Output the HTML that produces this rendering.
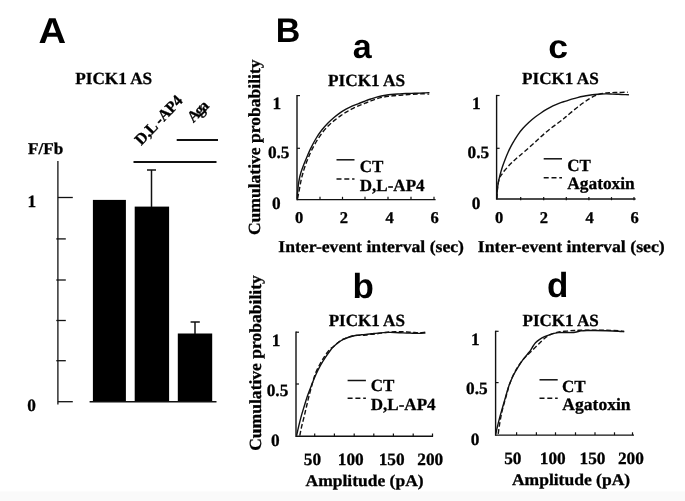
<!DOCTYPE html>
<html lang="en">
<head>
<meta charset="utf-8">
<title>Figure</title>
<style>
html,body{margin:0;padding:0;background:#fff;}
body{width:685px;height:501px;overflow:hidden;}
svg{display:block;will-change:transform;transform:translateZ(0);}
text{text-rendering:geometricPrecision;}
.se{font-family:"Liberation Serif", serif;font-weight:bold;fill:#000;stroke:#000;stroke-width:0.3px;}
.sa{font-family:"Liberation Sans", sans-serif;font-weight:bold;fill:#000;}
line,path{stroke:#111;}
</style>
</head>
<body>
<svg width="685" height="501" viewBox="0 0 685 501">
<rect width="685" height="501" fill="#fff"/>
<rect x="0" y="491.5" width="685" height="9.5" fill="#fafafa"/>
<text class="sa" x="38.4" y="42.5" font-size="36" text-anchor="start" textLength="27.6" lengthAdjust="spacingAndGlyphs">A</text>
<text class="se" x="75.2" y="84" font-size="17" text-anchor="start" textLength="77" lengthAdjust="spacingAndGlyphs">PICK1 AS</text>
<text class="se" x="28" y="153.8" font-size="16.5" text-anchor="start" textLength="35.2" lengthAdjust="spacingAndGlyphs">F/Fb</text>
<text class="se" x="141.3" y="145.9" font-size="16" text-anchor="start" transform="rotate(-46.5 141.3 145.9)" textLength="61.5" lengthAdjust="spacing">D,L -AP4</text>
<text class="se" x="193.2" y="123.3" font-size="16" text-anchor="start" transform="rotate(-45 193.2 123.3)" textLength="23.5" lengthAdjust="spacing">Aga</text>
<line x1="176.7" y1="140" x2="218" y2="140" stroke-width="2"/>
<line x1="133.5" y1="162" x2="216.5" y2="162" stroke-width="2"/>
<line x1="57.9" y1="161" x2="57.9" y2="404.4" stroke-width="1.3"/>
<line x1="57.9" y1="197.5" x2="72.8" y2="197.5" stroke-width="1.3"/>
<line x1="57.9" y1="401.7" x2="72.8" y2="401.7" stroke-width="1.3"/>
<line x1="56.3" y1="238.9" x2="65.8" y2="238.9" stroke-width="1.3"/>
<line x1="56.3" y1="280" x2="65.8" y2="280" stroke-width="1.3"/>
<line x1="56.3" y1="320.5" x2="65.8" y2="320.5" stroke-width="1.3"/>
<line x1="56.3" y1="360.7" x2="65.8" y2="360.7" stroke-width="1.3"/>
<text class="se" x="27.5" y="207.4" font-size="17.3" text-anchor="start">1</text>
<text class="se" x="27.2" y="411.3" font-size="17.3" text-anchor="start">0</text>
<rect x="92.9" y="199.9" width="33" height="202" fill="#000"/>
<rect x="134.7" y="206.6" width="34.4" height="195.3" fill="#000"/>
<rect x="177.8" y="333.5" width="34.4" height="68.4" fill="#000"/>
<line x1="89.6" y1="401.8" x2="216.5" y2="401.8" stroke-width="1.5"/>
<line x1="151.5" y1="170" x2="151.5" y2="207" stroke-width="1.5"/>
<line x1="147" y1="170" x2="156" y2="170" stroke-width="1.5"/>
<line x1="195" y1="322" x2="195" y2="334" stroke-width="1.5"/>
<line x1="190.6" y1="322" x2="199.8" y2="322" stroke-width="1.5"/>
<text class="sa" x="275.8" y="41.8" font-size="34" text-anchor="start">B</text>
<text class="sa" x="362.2" y="58" font-size="34" text-anchor="middle">a</text>
<text class="sa" x="558.2" y="58.3" font-size="33" text-anchor="middle" textLength="19.8" lengthAdjust="spacingAndGlyphs">c</text>
<text class="sa" x="363.3" y="298" font-size="35" text-anchor="middle">b</text>
<text class="sa" x="557.6" y="296.8" font-size="35" text-anchor="middle">d</text>
<text class="se" x="328" y="85.5" font-size="17" text-anchor="start" textLength="77" lengthAdjust="spacingAndGlyphs">PICK1 AS</text>
<line x1="297" y1="95.0" x2="297" y2="200.29999999999998" stroke-width="1.4"/>
<line x1="297" y1="199.6" x2="435.6" y2="199.6" stroke-width="1.4"/>
<line x1="297" y1="95.6" x2="300" y2="95.6" stroke-width="1.2"/>
<line x1="297" y1="148.3" x2="300" y2="148.3" stroke-width="1.2"/>
<line x1="320" y1="199.6" x2="320" y2="196.79999999999998" stroke-width="1.2"/>
<line x1="342.5" y1="199.6" x2="342.5" y2="196.79999999999998" stroke-width="1.2"/>
<line x1="365" y1="199.6" x2="365" y2="196.79999999999998" stroke-width="1.2"/>
<line x1="388" y1="199.6" x2="388" y2="196.79999999999998" stroke-width="1.2"/>
<line x1="411" y1="199.6" x2="411" y2="196.79999999999998" stroke-width="1.2"/>
<line x1="434" y1="199.6" x2="434" y2="196.79999999999998" stroke-width="1.2"/>
<path d="M297.20,198.70 C297.33,196.90 297.67,191.10 298.00,187.90 C298.33,184.70 298.70,182.10 299.20,179.50 C299.70,176.90 300.20,174.88 301.00,172.30 C301.80,169.72 303.00,166.58 304.00,164.00 C305.00,161.42 305.90,159.37 307.00,156.80 C308.10,154.23 309.10,151.65 310.60,148.60 C312.10,145.55 314.10,141.63 316.00,138.50 C317.90,135.37 320.00,132.38 322.00,129.80 C324.00,127.22 326.00,125.05 328.00,123.00 C330.00,120.95 332.00,119.20 334.00,117.50 C336.00,115.80 338.00,114.18 340.00,112.80 C342.00,111.42 344.00,110.30 346.00,109.20 C348.00,108.10 350.00,107.10 352.00,106.20 C354.00,105.30 356.00,104.58 358.00,103.80 C360.00,103.02 361.87,102.30 364.00,101.50 C366.13,100.70 368.68,99.73 370.80,99.00 C372.92,98.27 374.75,97.63 376.70,97.10 C378.65,96.57 380.55,96.18 382.50,95.80 C384.45,95.42 386.45,95.07 388.40,94.80 C390.35,94.53 392.27,94.35 394.20,94.20 C396.13,94.05 398.05,94.02 400.00,93.90 C401.95,93.78 403.95,93.58 405.90,93.50 C407.85,93.42 409.75,93.45 411.70,93.40 C413.65,93.35 415.65,93.27 417.60,93.20 C419.55,93.13 421.42,93.10 423.40,93.00 C425.38,92.90 428.48,92.67 429.50,92.60" fill="none" stroke-width="1.4" stroke-linejoin="round"/>
<path d="M297.60,198.70 C297.87,197.30 298.63,193.30 299.20,190.30 C299.77,187.30 300.40,183.50 301.00,180.70 C301.60,177.90 302.10,176.00 302.80,173.50 C303.50,171.00 304.30,168.28 305.20,165.70 C306.10,163.12 307.13,160.57 308.20,158.00 C309.27,155.43 310.10,153.27 311.60,150.30 C313.10,147.33 315.27,143.33 317.20,140.20 C319.13,137.07 321.20,134.03 323.20,131.50 C325.20,128.97 327.22,126.93 329.20,125.00 C331.18,123.07 333.12,121.50 335.10,119.90 C337.08,118.30 339.10,116.78 341.10,115.40 C343.10,114.02 345.10,112.78 347.10,111.60 C349.10,110.42 351.10,109.30 353.10,108.30 C355.10,107.30 357.07,106.45 359.10,105.60 C361.13,104.75 363.35,103.98 365.30,103.20 C367.25,102.42 368.90,101.63 370.80,100.90 C372.70,100.17 374.75,99.40 376.70,98.80 C378.65,98.20 380.55,97.72 382.50,97.30 C384.45,96.88 386.45,96.57 388.40,96.30 C390.35,96.03 392.27,95.87 394.20,95.70 C396.13,95.53 398.05,95.45 400.00,95.30 C401.95,95.15 403.95,94.97 405.90,94.80 C407.85,94.63 409.75,94.43 411.70,94.30 C413.65,94.17 415.65,94.08 417.60,94.00 C419.55,93.92 421.47,93.78 423.40,93.80 C425.33,93.82 428.23,94.05 429.20,94.10" fill="none" stroke-width="1.4" stroke-linejoin="round" stroke-dasharray="4.8 2.4"/>
<line x1="336.5" y1="159.8" x2="354.5" y2="159.8" stroke-width="1.5"/>
<text class="se" x="359.8" y="172" font-size="17" text-anchor="start">CT</text>
<line x1="336.5" y1="179" x2="354.5" y2="179" stroke-width="1.5" stroke-dasharray="5 2.8"/>
<text class="se" x="359.8" y="191.2" font-size="17" text-anchor="start" textLength="64.8" lengthAdjust="spacingAndGlyphs">D,L-AP4</text>
<text class="se" x="272.5" y="108.6" font-size="17.3" text-anchor="start">1</text>
<text class="se" x="267.9" y="158.4" font-size="17.3" text-anchor="start">0.5</text>
<text class="se" x="272" y="208.5" font-size="17.3" text-anchor="start">0</text>
<text class="se" x="299.2" y="223.4" font-size="16.5" text-anchor="middle">0</text>
<text class="se" x="343.8" y="223.4" font-size="16.5" text-anchor="middle">2</text>
<text class="se" x="389.5" y="223.4" font-size="16.5" text-anchor="middle">4</text>
<text class="se" x="434.7" y="223.4" font-size="16.5" text-anchor="middle">6</text>
<text class="se" x="278.3" y="251.7" font-size="16.6" text-anchor="start" textLength="185.7" lengthAdjust="spacingAndGlyphs">Inter-event interval (sec)</text>
<text class="se" x="259.7" y="235.1" font-size="17" text-anchor="start" transform="rotate(-90 259.7 235.1)" textLength="175.7" lengthAdjust="spacingAndGlyphs">Cumulative probability</text>
<text class="se" x="522" y="84.3" font-size="17" text-anchor="start" textLength="76.7" lengthAdjust="spacingAndGlyphs">PICK1 AS</text>
<line x1="496.6" y1="94.9" x2="496.6" y2="199.7" stroke-width="1.4"/>
<line x1="496.6" y1="199.0" x2="635.6" y2="199.0" stroke-width="1.4"/>
<line x1="496.6" y1="95.5" x2="499.6" y2="95.5" stroke-width="1.2"/>
<line x1="496.6" y1="148.3" x2="499.6" y2="148.3" stroke-width="1.2"/>
<line x1="520.7" y1="200.2" x2="520.7" y2="197.1" stroke-width="1.2"/>
<line x1="543.7" y1="200.2" x2="543.7" y2="197.1" stroke-width="1.2"/>
<line x1="566.3" y1="200.2" x2="566.3" y2="197.1" stroke-width="1.2"/>
<line x1="588.9" y1="200.2" x2="588.9" y2="197.1" stroke-width="1.2"/>
<line x1="611.5" y1="200.2" x2="611.5" y2="197.1" stroke-width="1.2"/>
<line x1="634" y1="200.2" x2="634" y2="197.1" stroke-width="1.2"/>
<path d="M496.80,198.70 C496.87,197.50 497.00,193.90 497.20,191.50 C497.40,189.10 497.57,186.90 498.00,184.30 C498.43,181.70 499.10,178.70 499.80,175.90 C500.50,173.10 501.30,170.28 502.20,167.50 C503.10,164.72 504.20,161.78 505.20,159.20 C506.20,156.62 507.20,154.23 508.20,152.00 C509.20,149.77 510.18,147.72 511.20,145.80 C512.22,143.88 513.13,142.42 514.30,140.50 C515.47,138.58 516.75,136.33 518.20,134.30 C519.65,132.27 521.20,130.30 523.00,128.30 C524.80,126.30 527.02,124.13 529.00,122.30 C530.98,120.47 532.92,118.85 534.90,117.30 C536.88,115.75 538.90,114.35 540.90,113.00 C542.90,111.65 544.90,110.38 546.90,109.20 C548.90,108.02 550.90,106.88 552.90,105.90 C554.90,104.92 556.75,104.10 558.90,103.30 C561.05,102.50 563.67,101.78 565.80,101.10 C567.93,100.42 569.75,99.78 571.70,99.20 C573.65,98.62 575.55,98.08 577.50,97.60 C579.45,97.12 581.45,96.68 583.40,96.30 C585.35,95.92 587.27,95.60 589.20,95.30 C591.13,95.00 593.05,94.72 595.00,94.50 C596.95,94.28 598.95,94.10 600.90,94.00 C602.85,93.90 604.75,93.88 606.70,93.90 C608.65,93.92 610.65,94.03 612.60,94.10 C614.55,94.17 616.47,94.22 618.40,94.30 C620.33,94.38 622.45,94.52 624.20,94.60 C625.95,94.68 628.12,94.77 628.90,94.80" fill="none" stroke-width="1.4" stroke-linejoin="round"/>
<path d="M496.80,198.70 C496.87,197.50 497.00,193.90 497.20,191.50 C497.40,189.10 497.60,186.63 498.00,184.30 C498.40,181.97 499.00,179.10 499.60,177.50 C500.20,175.90 500.77,175.87 501.60,174.70 C502.43,173.53 503.30,172.10 504.60,170.50 C505.90,168.90 507.80,166.78 509.40,165.10 C511.00,163.42 512.60,161.88 514.20,160.40 C515.80,158.92 517.22,157.73 519.00,156.20 C520.78,154.67 522.65,153.15 524.90,151.20 C527.15,149.25 530.23,146.53 532.50,144.50 C534.77,142.47 536.50,140.82 538.50,139.00 C540.50,137.18 542.50,135.33 544.50,133.60 C546.50,131.87 548.50,130.18 550.50,128.60 C552.50,127.02 554.50,125.58 556.50,124.10 C558.50,122.62 560.95,120.90 562.50,119.70 C564.05,118.50 564.27,118.20 565.80,116.90 C567.33,115.60 569.75,113.52 571.70,111.90 C573.65,110.28 575.55,108.72 577.50,107.20 C579.45,105.68 581.45,104.20 583.40,102.80 C585.35,101.40 587.27,99.98 589.20,98.80 C591.13,97.62 593.25,96.48 595.00,95.70 C596.75,94.92 598.13,94.52 599.70,94.10 C601.27,93.68 602.83,93.43 604.40,93.20 C605.97,92.97 606.77,92.82 609.10,92.70 C611.43,92.58 615.30,92.58 618.40,92.50 C621.50,92.42 626.15,92.25 627.70,92.20" fill="none" stroke-width="1.4" stroke-linejoin="round" stroke-dasharray="4.8 2.4"/>
<line x1="543.7" y1="158.8" x2="562" y2="158.8" stroke-width="1.5"/>
<text class="se" x="567.3" y="171.3" font-size="17" text-anchor="start">CT</text>
<line x1="543.7" y1="177.8" x2="562" y2="177.8" stroke-width="1.5" stroke-dasharray="5 2.8"/>
<text class="se" x="567.3" y="189.3" font-size="17.3" text-anchor="start" textLength="67.4" lengthAdjust="spacingAndGlyphs">Agatoxin</text>
<text class="se" x="471.9" y="108.6" font-size="17.3" text-anchor="start">1</text>
<text class="se" x="467.5" y="158.4" font-size="17.3" text-anchor="start">0.5</text>
<text class="se" x="471.7" y="208.9" font-size="17.3" text-anchor="start">0</text>
<text class="se" x="499.2" y="223.3" font-size="16.5" text-anchor="middle">0</text>
<text class="se" x="543.8" y="223.3" font-size="16.5" text-anchor="middle">2</text>
<text class="se" x="589.5" y="223.3" font-size="16.5" text-anchor="middle">4</text>
<text class="se" x="634.7" y="223.3" font-size="16.5" text-anchor="middle">6</text>
<text class="se" x="477.8" y="251.5" font-size="16.6" text-anchor="start" textLength="187" lengthAdjust="spacingAndGlyphs">Inter-event interval (sec)</text>
<text class="se" x="328.7" y="326.3" font-size="17" text-anchor="start" textLength="76.2" lengthAdjust="spacingAndGlyphs">PICK1 AS</text>
<line x1="296.0" y1="331.59999999999997" x2="296.0" y2="437.0" stroke-width="1.4"/>
<line x1="296.0" y1="436.3" x2="433.1" y2="436.3" stroke-width="1.4"/>
<line x1="296.0" y1="332.2" x2="299.0" y2="332.2" stroke-width="1.2"/>
<line x1="296.0" y1="384" x2="299.0" y2="384" stroke-width="1.2"/>
<line x1="314.7" y1="436.3" x2="314.7" y2="433.5" stroke-width="1.2"/>
<line x1="334.4" y1="436.3" x2="334.4" y2="433.5" stroke-width="1.2"/>
<line x1="354.2" y1="436.3" x2="354.2" y2="433.5" stroke-width="1.2"/>
<line x1="373.8" y1="436.3" x2="373.8" y2="433.5" stroke-width="1.2"/>
<line x1="393.4" y1="436.3" x2="393.4" y2="433.5" stroke-width="1.2"/>
<line x1="413.2" y1="436.3" x2="413.2" y2="433.5" stroke-width="1.2"/>
<line x1="432.5" y1="436.3" x2="432.5" y2="433.5" stroke-width="1.2"/>
<path d="M296.60,435.70 C296.93,434.20 297.87,429.80 298.60,426.70 C299.33,423.60 300.10,420.38 301.00,417.10 C301.90,413.82 302.90,410.58 304.00,407.00 C305.10,403.42 306.37,399.18 307.60,395.60 C308.83,392.02 310.03,388.98 311.40,385.50 C312.77,382.02 314.27,378.10 315.80,374.70 C317.33,371.30 319.00,368.00 320.60,365.10 C322.20,362.20 323.82,359.70 325.40,357.30 C326.98,354.90 328.72,352.48 330.10,350.70 C331.48,348.92 332.30,347.98 333.70,346.60 C335.10,345.22 336.90,343.60 338.50,342.40 C340.10,341.20 341.50,340.30 343.30,339.40 C345.10,338.50 347.30,337.65 349.30,337.00 C351.30,336.35 353.30,335.87 355.30,335.50 C357.30,335.13 359.55,334.97 361.30,334.80 C363.05,334.63 364.07,334.67 365.80,334.50 C367.53,334.33 369.75,334.03 371.70,333.80 C373.65,333.57 375.55,333.30 377.50,333.10 C379.45,332.90 381.45,332.72 383.40,332.60 C385.35,332.48 387.27,332.42 389.20,332.40 C391.13,332.38 393.05,332.43 395.00,332.50 C396.95,332.57 398.95,332.70 400.90,332.80 C402.85,332.90 404.75,333.03 406.70,333.10 C408.65,333.17 410.65,333.15 412.60,333.20 C414.55,333.25 416.27,333.42 418.40,333.40 C420.53,333.38 424.23,333.15 425.40,333.10" fill="none" stroke-width="1.4" stroke-linejoin="round"/>
<path d="M299.80,435.70 C300.10,434.20 300.90,429.80 301.60,426.70 C302.30,423.60 303.20,420.38 304.00,417.10 C304.80,413.82 305.60,410.38 306.40,407.00 C307.20,403.62 307.90,400.38 308.80,396.80 C309.70,393.22 310.73,389.28 311.80,385.50 C312.87,381.72 313.83,377.68 315.20,374.10 C316.57,370.52 318.40,367.02 320.00,364.00 C321.60,360.98 323.22,358.40 324.80,356.00 C326.38,353.60 328.08,351.13 329.50,349.60 C330.92,348.07 331.80,348.03 333.30,346.80 C334.80,345.57 336.83,343.47 338.50,342.20 C340.17,340.93 341.50,340.10 343.30,339.20 C345.10,338.30 347.30,337.42 349.30,336.80 C351.30,336.18 353.52,335.73 355.30,335.50 C357.08,335.27 358.25,335.48 360.00,335.40 C361.75,335.32 363.85,335.20 365.80,335.00 C367.75,334.80 369.75,334.42 371.70,334.20 C373.65,333.98 375.55,333.93 377.50,333.70 C379.45,333.47 381.45,333.08 383.40,332.80 C385.35,332.52 387.27,332.18 389.20,332.00 C391.13,331.82 393.05,331.75 395.00,331.70 C396.95,331.65 398.95,331.65 400.90,331.70 C402.85,331.75 404.75,331.88 406.70,332.00 C408.65,332.12 410.65,332.27 412.60,332.40 C414.55,332.53 416.27,332.82 418.40,332.80 C420.53,332.78 424.23,332.38 425.40,332.30" fill="none" stroke-width="1.4" stroke-linejoin="round" stroke-dasharray="4.8 2.4"/>
<line x1="347.6" y1="380.5" x2="365.9" y2="380.5" stroke-width="1.5"/>
<text class="se" x="370.8" y="391.3" font-size="17" text-anchor="start">CT</text>
<line x1="347.6" y1="398.3" x2="365.9" y2="398.3" stroke-width="1.5" stroke-dasharray="5 2.8"/>
<text class="se" x="370.8" y="410.2" font-size="17" text-anchor="start" textLength="64.8" lengthAdjust="spacingAndGlyphs">D,L-AP4</text>
<text class="se" x="271.8" y="345.7" font-size="17.3" text-anchor="start">1</text>
<text class="se" x="266.7" y="395.7" font-size="17.3" text-anchor="start">0.5</text>
<text class="se" x="271.1" y="445.6" font-size="17.3" text-anchor="start">0</text>
<text class="se" x="312.4" y="464.7" font-size="17.3" text-anchor="middle">50</text>
<text class="se" x="350.7" y="464.7" font-size="17.3" text-anchor="middle">100</text>
<text class="se" x="391.6" y="464.7" font-size="17.3" text-anchor="middle">150</text>
<text class="se" x="430.2" y="464.7" font-size="17.3" text-anchor="middle">200</text>
<text class="se" x="305.6" y="485.6" font-size="16.4" text-anchor="start" textLength="118" lengthAdjust="spacingAndGlyphs">Amplitude (pA)</text>
<text class="se" x="261.3" y="450.8" font-size="17" text-anchor="start" transform="rotate(-90 261.3 450.8)" textLength="175.6" lengthAdjust="spacingAndGlyphs">Cumulative probability</text>
<text class="se" x="522.5" y="325.7" font-size="17" text-anchor="start" textLength="76.2" lengthAdjust="spacingAndGlyphs">PICK1 AS</text>
<line x1="495.6" y1="330.7" x2="495.6" y2="435.8" stroke-width="1.4"/>
<line x1="495.6" y1="435.1" x2="634.0" y2="435.1" stroke-width="1.4"/>
<line x1="495.6" y1="331.3" x2="498.6" y2="331.3" stroke-width="1.2"/>
<line x1="495.6" y1="382.6" x2="498.6" y2="382.6" stroke-width="1.2"/>
<line x1="516.6" y1="435.1" x2="516.6" y2="432.3" stroke-width="1.2"/>
<line x1="536.4" y1="435.1" x2="536.4" y2="432.3" stroke-width="1.2"/>
<line x1="555.5" y1="435.1" x2="555.5" y2="432.3" stroke-width="1.2"/>
<line x1="575.5" y1="435.1" x2="575.5" y2="432.3" stroke-width="1.2"/>
<line x1="595" y1="435.1" x2="595" y2="432.3" stroke-width="1.2"/>
<line x1="614.5" y1="435.1" x2="614.5" y2="432.3" stroke-width="1.2"/>
<line x1="632.5" y1="435.1" x2="632.5" y2="432.3" stroke-width="1.2"/>
<path d="M495.80,433.90 C496.07,432.70 496.73,429.50 497.40,426.70 C498.07,423.90 499.00,420.10 499.80,417.10 C500.60,414.10 501.40,411.48 502.20,408.70 C503.00,405.92 503.80,403.18 504.60,400.40 C505.40,397.62 506.22,394.60 507.00,392.00 C507.78,389.40 508.23,387.58 509.30,384.80 C510.37,382.02 511.92,378.28 513.40,375.30 C514.88,372.32 516.60,369.50 518.20,366.90 C519.80,364.30 521.40,361.90 523.00,359.70 C524.60,357.50 526.52,355.30 527.80,353.70 C529.08,352.10 529.82,351.38 530.70,350.10 C531.58,348.82 532.30,347.23 533.10,346.00 C533.90,344.77 534.40,343.80 535.50,342.70 C536.60,341.60 538.20,340.40 539.70,339.40 C541.20,338.40 542.90,337.47 544.50,336.70 C546.10,335.93 547.70,335.35 549.30,334.80 C550.90,334.25 552.50,333.77 554.10,333.40 C555.70,333.03 556.95,332.75 558.90,332.60 C560.85,332.45 563.67,332.50 565.80,332.50 C567.93,332.50 569.93,332.68 571.70,332.60 C573.47,332.52 574.85,332.28 576.40,332.00 C577.95,331.72 579.25,331.15 581.00,330.90 C582.75,330.65 584.57,330.57 586.90,330.50 C589.23,330.43 591.70,330.47 595.00,330.50 C598.30,330.53 602.80,330.58 606.70,330.70 C610.60,330.82 615.48,331.03 618.40,331.20 C621.32,331.37 623.23,331.62 624.20,331.70" fill="none" stroke-width="1.4" stroke-linejoin="round"/>
<path d="M498.20,433.90 C498.37,432.70 498.80,429.30 499.20,426.70 C499.60,424.10 500.05,421.20 500.60,418.30 C501.15,415.40 501.78,412.25 502.50,409.30 C503.22,406.35 504.10,403.48 504.90,400.60 C505.70,397.72 506.53,394.72 507.30,392.00 C508.07,389.28 508.48,387.18 509.50,384.30 C510.52,381.42 511.95,377.70 513.40,374.70 C514.85,371.70 516.60,368.80 518.20,366.30 C519.80,363.80 521.40,361.63 523.00,359.70 C524.60,357.77 526.22,356.30 527.80,354.70 C529.38,353.10 530.92,351.65 532.50,350.10 C534.08,348.55 535.70,346.98 537.30,345.40 C538.90,343.82 540.60,342.00 542.10,340.60 C543.60,339.20 544.90,338.00 546.30,337.00 C547.70,336.00 549.00,335.30 550.50,334.60 C552.00,333.90 553.70,333.27 555.30,332.80 C556.90,332.33 558.15,332.08 560.10,331.80 C562.05,331.52 564.68,331.32 567.00,331.10 C569.32,330.88 572.05,330.63 574.00,330.50 C575.95,330.37 576.55,330.33 578.70,330.30 C580.85,330.27 584.18,330.32 586.90,330.30 C589.62,330.28 591.70,330.20 595.00,330.20 C598.30,330.20 602.80,330.22 606.70,330.30 C610.60,330.38 615.48,330.52 618.40,330.70 C621.32,330.88 623.23,331.28 624.20,331.40" fill="none" stroke-width="1.4" stroke-linejoin="round" stroke-dasharray="4.8 2.4"/>
<line x1="539.5" y1="379.8" x2="557.7" y2="379.8" stroke-width="1.5"/>
<text class="se" x="562.1" y="391.8" font-size="17" text-anchor="start">CT</text>
<line x1="539.5" y1="398.3" x2="557.7" y2="398.3" stroke-width="1.5" stroke-dasharray="5 2.8"/>
<text class="se" x="562.3" y="410" font-size="17.3" text-anchor="start" textLength="68.3" lengthAdjust="spacingAndGlyphs">Agatoxin</text>
<text class="se" x="470.9" y="344.9" font-size="17.3" text-anchor="start">1</text>
<text class="se" x="466" y="393.9" font-size="17.3" text-anchor="start">0.5</text>
<text class="se" x="470.7" y="444.5" font-size="17.3" text-anchor="start">0</text>
<text class="se" x="512.8" y="463.7" font-size="17.3" text-anchor="middle">50</text>
<text class="se" x="552.7" y="463.7" font-size="17.3" text-anchor="middle">100</text>
<text class="se" x="592.5" y="463.7" font-size="17.3" text-anchor="middle">150</text>
<text class="se" x="630.9" y="463.7" font-size="17.3" text-anchor="middle">200</text>
<text class="se" x="511.9" y="485.3" font-size="16.4" text-anchor="start" textLength="118.3" lengthAdjust="spacingAndGlyphs">Amplitude (pA)</text>
</svg>
</body>
</html>
